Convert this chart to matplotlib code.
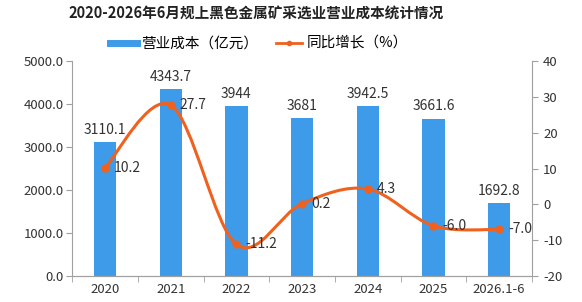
import matplotlib
matplotlib.use('Agg')
import matplotlib.pyplot as plt
from matplotlib.path import Path
from matplotlib.patches import PathPatch
from matplotlib.lines import Line2D
import numpy as np

plt.rcParams['font.family'] = ['Noto Sans CJK SC', 'DejaVu Sans']
plt.rcParams['axes.unicode_minus'] = False

years = ["2020", "2021", "2022", "2023", "2024", "2025", "2026.1-6"]
cost = [3110.1, 4343.7, 3944, 3681, 3942.5, 3661.6, 1692.8]
cost_labels = ["3110.1", "4343.7", "3944", "3681", "3942.5", "3661.6", "1692.8"]
growth = [10.2, 27.7, -11.2, 0.2, 4.3, -6.0, -7.0]

bar_color = "#3d9be9"
line_color = "#f0611e"
axis_color = "#a0a0a0"
text_color = "#333333"

fig = plt.figure(figsize=(5.82, 3.02), dpi=100)
ax = fig.add_axes([0.124, 0.086, 0.79, 0.712])
ax2 = ax.twinx()

x = np.arange(len(years))
ax.bar(x, cost, width=0.34, color=bar_color, zorder=2)
for xi, v, lab in zip(x, cost, cost_labels):
    ax.text(xi, v + 120, lab, ha='center', va='bottom', fontsize=10, color=text_color)

ax.set_xlim(-0.5, len(years) - 0.5)
ax.set_ylim(0, 5000)
ax.set_yticks(np.arange(0, 5001, 1000))
ax.set_yticklabels([f"{t:.1f}" for t in np.arange(0, 5001, 1000)], fontsize=9.5, color=text_color)
ax.set_xticks(x)
ax.set_xticklabels(years, fontsize=9.5, color=text_color)
ax.set_xticks(np.arange(-0.5, len(years), 1), minor=True)
ax.tick_params(axis='x', which='major', length=0, pad=5)
ax.tick_params(axis='x', which='minor', length=4, color=axis_color)
ax.tick_params(axis='y', length=4, color=axis_color, pad=2)

ax2.set_ylim(-20, 40)
ax2.set_yticks(np.arange(-20, 41, 10))
ax2.set_yticklabels([str(t) for t in range(-20, 41, 10)], fontsize=9.5, color=text_color)
ax2.tick_params(axis='y', length=4, color=axis_color, pad=4)

for a in (ax, ax2):
    a.spines['top'].set_visible(False)
    for s in ('left', 'right', 'bottom'):
        a.spines[s].set_color(axis_color)
ax.spines['right'].set_visible(False)
ax2.spines['left'].set_visible(False)

# smooth curve through the points (Catmull-Rom as cubic Bezier segments)
pts = np.column_stack([x, growth]).astype(float)
verts = [tuple(pts[0])]
codes = [Path.MOVETO]
t = 0.5
for i in range(len(pts) - 1):
    p0 = pts[i - 1] if i > 0 else pts[i]
    p1, p2 = pts[i], pts[i + 1]
    p3 = pts[i + 2] if i + 2 < len(pts) else pts[i + 1]
    c1 = p1 + (p2 - p0) * t / 3
    c2 = p2 - (p3 - p1) * t / 3
    verts += [tuple(c1), tuple(c2), tuple(p2)]
    codes += [Path.CURVE4] * 3
ax2.add_patch(PathPatch(Path(verts, codes), facecolor='none', edgecolor=line_color, lw=2.2, zorder=3))
ax2.plot(x, growth, 'o', color=line_color, ms=5, zorder=4)
for xi, g in zip(x, growth):
    ax2.text(xi + 0.14, g, f"{g:.1f}", ha='left', va='center', fontsize=10, color=text_color, zorder=5)

fig.text(0.44, 0.955, "2020-2026年6月规上黑色金属矿采选业营业成本统计情况",
         ha='center', va='center', fontsize=10.5, fontweight='bold', color='#222222')

handles = [
    Line2D([], [], color=bar_color, lw=5),
    Line2D([], [], color=line_color, lw=2, marker='o', ms=3),
]
fig.legend(handles, ["营业成本（亿元）", "同比增长（%）"], loc='center', bbox_to_anchor=(0.445, 0.855),
           ncol=2, frameon=False, fontsize=10.5, handlelength=1.8, columnspacing=1.2, handletextpad=0.3)

fig.savefig("out.png", dpi=100)
